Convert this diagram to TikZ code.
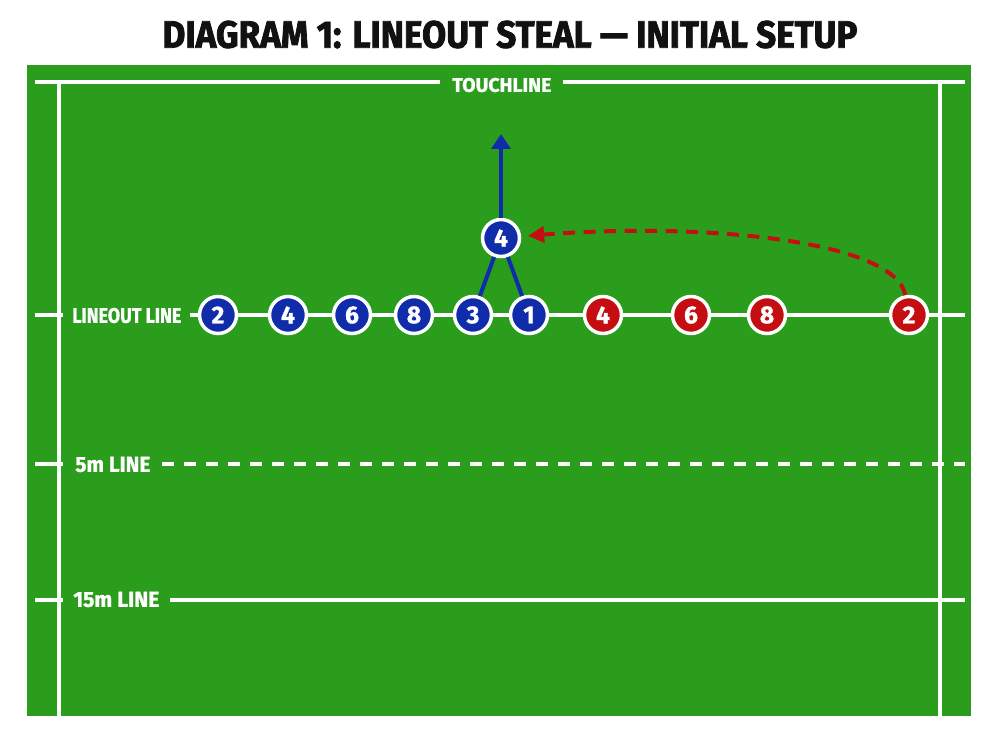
\documentclass[tikz,border=0pt]{standalone}
\usepackage{fontspec}
\setmainfont{Fira Sans}
\newfontfamily\heavytitle[FakeBold=2.2]{Fira Sans Bold}
\newfontfamily\heavylabel[FakeBold=1.2]{Fira Sans Bold}
\usetikzlibrary{arrows.meta}
\definecolor{turf}{RGB}{42,158,28}
\definecolor{bluep}{RGB}{16,44,170}
\definecolor{redp}{RGB}{196,14,18}
\definecolor{titleink}{RGB}{17,17,17}
\begin{document}
\begin{tikzpicture}[x=0.02cm,y=-0.02cm,
  fieldline/.style={white, line width=0.08cm},
  lbl/.style={text=white, inner sep=0pt, anchor=west},
  player/.style={circle, draw=white, line width=0.07cm, minimum size=0.74cm, inner sep=0pt, text=white, font=\heavylabel\fontsize{14}{14}\selectfont},
  blueplayer/.style={player, fill=bluep},
  redplayer/.style={player, fill=redp},
  blueline/.style={bluep, line width=0.08cm},
  redrun/.style={redp, line width=0.08cm, dash pattern=on 0.24cm off 0.17cm}
]
\useasboundingbox (0,0) rectangle (1000,750);
\fill[white] (0,0) rectangle (1000,750);
\node[text=titleink, inner sep=0pt] (title) at (510,34.5) {\resizebox{13.9cm}{0.54cm}{\heavytitle DIAGRAM 1: LINEOUT STEAL — INITIAL SETUP}};
\fill[turf] (27,65) rectangle (971,716);
% field lines
\draw[fieldline] (59,82) -- (59,716);
\draw[fieldline] (940,82) -- (940,716);
\draw[fieldline] (35,82) -- (440,82);
\draw[fieldline] (563,82) -- (965,82);
\draw[fieldline] (35,315) -- (63,315);
\draw[fieldline] (190,315) -- (965,315);
\draw[fieldline] (35,464) -- (63,464);
\draw[fieldline, dash pattern=on 0.24cm off 0.2cm] (162,464) -- (965,464);
\draw[fieldline] (35,600) -- (63,600);
\draw[fieldline] (170,600) -- (965,600);
% labels
\node[lbl] (ltouch) at (452,85) {\resizebox{1.98cm}{0.28cm}{\heavylabel TOUCHLINE}};
\node[lbl] (llineout) at (72,315.5) {\resizebox{2.18cm}{0.3cm}{\heavylabel LINEOUT LINE}};
\node[lbl] (lfive) at (75,464.5) {\resizebox{1.5cm}{0.3cm}{\heavylabel 5m LINE}};
\node[lbl] (lfifteen) at (73,599.5) {\resizebox{1.72cm}{0.3cm}{\heavylabel 15m LINE}};
% players
\node[blueplayer] (b2) at (218,315) {2};
\node[blueplayer] (b4) at (288,315) {4};
\node[blueplayer] (b6) at (352,315) {6};
\node[blueplayer] (b8) at (414,315) {8};
\node[blueplayer] (b3) at (473,315) {3};
\node[blueplayer] (b1) at (529,315) {1};
\node[blueplayer] (p4) at (501,238) {4};
\node[redplayer] (r4) at (603,315) {4};
\node[redplayer] (r6) at (691,315) {6};
\node[redplayer] (r8) at (767,315) {8};
\node[redplayer] (r2) at (909,315) {2};
% connectors
\coordinate (tip) at (501,134);
\draw[blueline] (p4) -- (b3);
\draw[blueline] (p4) -- (b1);
\draw[blueline, -{Triangle[length=0.3cm,width=0.38cm]}] (p4) -- (tip);
\draw[redrun, -{Triangle[length=0.32cm,width=0.32cm]}, shorten >=0.14cm] (r2) .. controls (895,240) and (700,222) .. (p4);
\end{tikzpicture}
\end{document}
